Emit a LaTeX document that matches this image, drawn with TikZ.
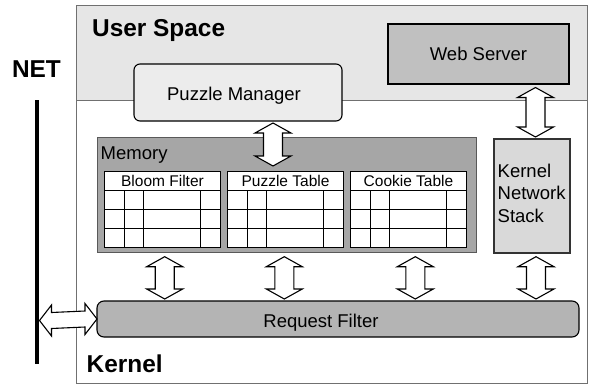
\documentclass[tikz,border=0pt]{standalone}
\usepackage{fontspec}
\setmainfont{Liberation Sans}
\usetikzlibrary{calc}
\definecolor{usfill}{HTML}{E6E6E6}
\definecolor{pmfill}{HTML}{ECECEC}
\definecolor{wsfill}{HTML}{C0C0C0}
\definecolor{memfill}{HTML}{A6A6A6}
\definecolor{knsfill}{HTML}{D9D9D9}
\definecolor{rffill}{HTML}{B4B4B4}
\definecolor{frame}{HTML}{707070}
\tikzset{
  box/.style={draw=black, line width=1.1pt, anchor=north west, inner sep=0pt, outer sep=0pt},
  region/.style={draw=frame, line width=0.9pt, anchor=north west, inner sep=0pt, outer sep=0pt},
  reg/.style={font=\fontsize{18.5}{22.5}\selectfont, inner sep=0pt},
  hd/.style={font=\fontsize{24.4}{28}\selectfont\bfseries, inner sep=0pt},
  thead/.style={font=\fontsize{15.5}{18}\selectfont, inner sep=0pt},
  tbl/.style={draw=black, line width=1pt, fill=white, anchor=north west, inner sep=0pt,
    minimum width=116pt, minimum height=76.5pt},
  grid/.style={draw=black, line width=0.9pt},
  harrow/.style={draw=black, line width=1.1pt, fill=white, line join=miter},
}
\newcommand\vdarrow[2]{%
  \draw[harrow] (#1) -- ($(#1)+(18,10)$) -- ($(#1)+(9.5,10)$) -- ($(#2)+(9.5,-10)$)
    -- ($(#2)+(18,-10)$) -- (#2) -- ($(#2)+(-18,-10)$) -- ($(#2)+(-9.5,-10)$)
    -- ($(#1)+(-9.5,10)$) -- ($(#1)+(-18,10)$) -- cycle;}
\newcommand\hdarrow[2]{%
  \draw[harrow] (#1) -- ($(#1)+(12,-15.5)$) -- ($(#1)+(12,-8)$) -- ($(#2)+(-12,-8)$)
    -- ($(#2)+(-12,-15.5)$) -- (#2) -- ($(#2)+(-12,15.5)$) -- ($(#2)+(-12,8)$)
    -- ($(#1)+(12,8)$) -- ($(#1)+(12,15.5)$) -- cycle;}
\newcommand\memtable[3]{%
  \node[tbl] (#1) at (#2,170.5) {};
  \node[thead] (#1t) at ($(#1.north)+(0,10)$) {#3};
  \begin{scope}[shift={(#1.north west)}]
    \foreach \r in {19.5,38.5,57.5} \draw[grid] (0,\r) -- (116,\r);
    \foreach \c in {20,39,96.5} \draw[grid] (\c,19.5) -- (\c,76.5);
  \end{scope}}
\begin{document}
\begin{tikzpicture}[x=1pt,y=-1pt]
\useasboundingbox (0,0) rectangle (589,386);
% regions
\node[region, fill=usfill, minimum width=511.5pt, minimum height=95pt] (us) at (76,5) {};
\node[region, fill=white, minimum width=511.5pt, minimum height=283pt] (kern) at (76,100) {};
\node[hd, anchor=base west] (ustxt) at (92,36) {User Space};
\node[hd, anchor=base west] (kerntxt) at (86.5,372) {Kernel};
% NET
\node[hd, anchor=base] (nettxt) at (36.5,77) {NET};
\draw[line width=4pt] (37,100) coordinate (nettop) -- (37,364) coordinate (netbot);
% user space boxes
\node[box, fill=wsfill, minimum width=181pt, minimum height=60pt] (ws) at (388,24) {};
\node[reg] (wstxt) at (ws.center) {Web Server};
\node[box, fill=pmfill, rounded corners=6pt, minimum width=208pt, minimum height=57pt] (pm) at (134,64) {};
\node[reg, anchor=base] (pmtxt) at (234,100) {Puzzle Manager};
% memory
\node[draw=black!65, line width=1.3pt, fill=memfill, anchor=north west, inner sep=0pt,
  minimum width=379pt, minimum height=114.5pt] (mem) at (97,137) {};
\node[reg, anchor=base west] (memtxt) at (100.5,159.3) {Memory};
\memtable{bf}{104}{Bloom Filter}
\memtable{pt}{227}{Puzzle Table}
\memtable{ct}{350}{Cookie Table}
% kernel network stack
\node[box, draw=black!80, fill=knsfill, minimum width=76pt, minimum height=114pt] (kns) at (494,139) {};
\node[reg, align=left, anchor=north west] (knstxt) at (497.5,163.5) {Kernel\\Network\\Stack};
% request filter
\node[box, fill=rffill, rounded corners=7pt, minimum width=482pt, minimum height=36pt] (rf) at (97,301) {};
\node[reg, anchor=base] (rftxt) at (321,327.7) {Request Filter};
% arrows
\coordinate (a1s) at (273,123);   \coordinate (a1e) at (273,166);
\coordinate (a2s) at (535.5,87.5); \coordinate (a2e) at (535.5,137);
\coordinate (b1s) at (164.7,256.7); \coordinate (b1e) at (164.7,299);
\coordinate (b2s) at (284.3,256.7); \coordinate (b2e) at (284.3,299);
\coordinate (b3s) at (415.3,256.7); \coordinate (b3e) at (415.3,299);
\coordinate (b4s) at (536,256.7);   \coordinate (b4e) at (536,299);
\coordinate (ns) at (39.5,320.5);   \coordinate (ne) at (rf.west);
\vdarrow{a1s}{a1e}
\vdarrow{a2s}{a2e}
\vdarrow{b1s}{b1e}
\vdarrow{b2s}{b2e}
\vdarrow{b3s}{b3e}
\vdarrow{b4s}{b4e}
\hdarrow{ns}{ne}
\end{tikzpicture}
\end{document}
